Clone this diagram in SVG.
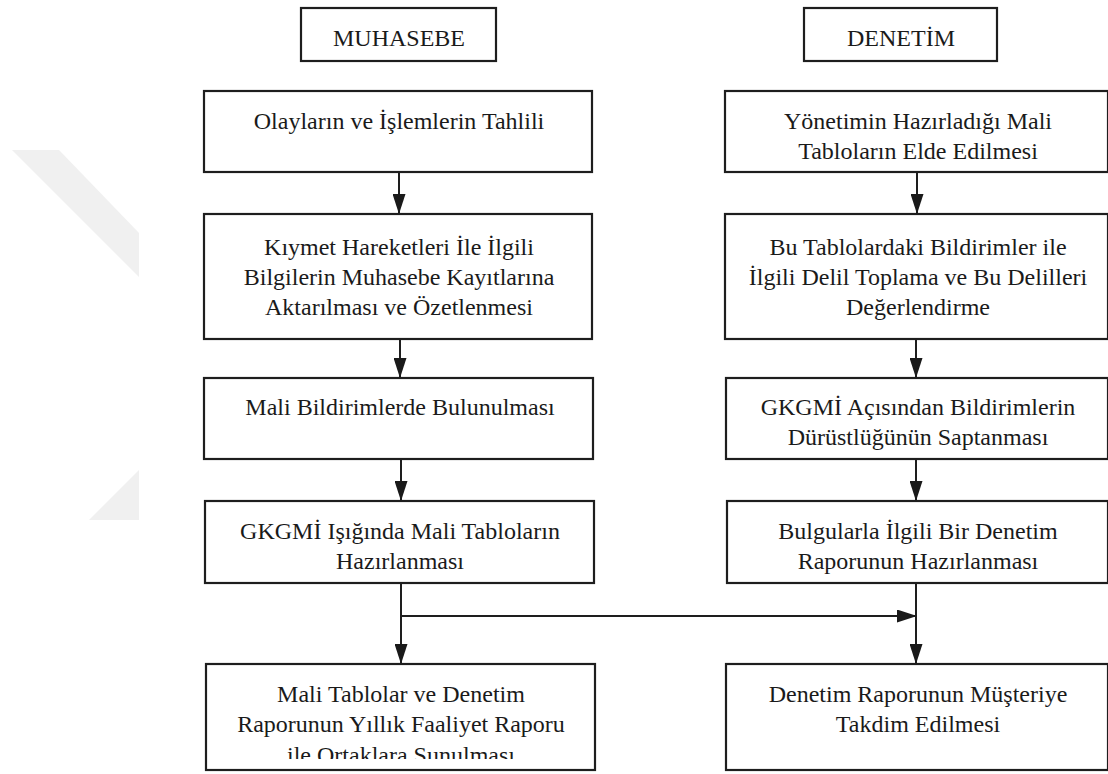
<svg xmlns="http://www.w3.org/2000/svg" width="1108" height="774" viewBox="0 0 1108 774">
  <style>
    .box { fill: #ffffff; stroke: #1e1e1e; stroke-width: 2.2; }
    .lbl { font-family: "Liberation Serif", "Times New Roman", serif; font-size: 24px; fill: #1a1a1a; text-anchor: middle; }
    .wire { fill: none; stroke: #1e1e1e; stroke-width: 2; }
    .mark { fill: #f0f0f0; }
  </style>
  <defs>
    <marker id="head" markerUnits="userSpaceOnUse" markerWidth="20" markerHeight="13" refX="20" refY="6.5" orient="auto">
      <path d="M0,0 L20,6.5 L0,13 Z" fill="#1a1a1a"/>
    </marker>
    <clipPath id="clip-m5">
      <rect x="204" y="664" width="390" height="95"/>
    </clipPath>
  </defs>

  <rect width="1108" height="774" fill="#ffffff"/>

  <!-- faint background emblem -->
  <g id="emblem">
    <polygon class="mark" points="12,150 59,150 139,233 139,277"/>
    <polygon class="mark" points="89,520 139,470 139,520"/>
  </g>

  <!-- column headers -->
  <g id="hdr-muhasebe">
    <rect class="box" x="301" y="8" width="195" height="53"/>
    <text class="lbl" x="399" y="46">MUHASEBE</text>
  </g>
  <g id="hdr-denetim">
    <rect class="box" x="804" y="8" width="193" height="53"/>
    <text class="lbl" x="901" y="46">DENETİM</text>
  </g>

  <!-- accounting column -->
  <g id="m1">
    <rect class="box" x="204" y="91" width="388" height="81"/>
    <text class="lbl" x="399" y="129">Olayların ve İşlemlerin Tahlili</text>
  </g>
  <g id="m2">
    <rect class="box" x="204" y="214" width="388" height="125"/>
    <text class="lbl" x="399" y="255">Kıymet Hareketleri İle İlgili</text>
    <text class="lbl" x="399" y="285">Bilgilerin Muhasebe Kayıtlarına</text>
    <text class="lbl" x="399" y="315">Aktarılması ve Özetlenmesi</text>
  </g>
  <g id="m3">
    <rect class="box" x="204" y="378" width="389" height="81"/>
    <text class="lbl" x="400" y="415">Mali Bildirimlerde Bulunulması</text>
  </g>
  <g id="m4">
    <rect class="box" x="205" y="501" width="389" height="82"/>
    <text class="lbl" x="400" y="539">GKGMİ Işığında Mali Tabloların</text>
    <text class="lbl" x="400" y="569">Hazırlanması</text>
  </g>
  <g id="m5">
    <rect class="box" x="206" y="664" width="389" height="106"/>
    <g clip-path="url(#clip-m5)">
      <text class="lbl" x="401" y="702">Mali Tablolar ve Denetim</text>
      <text class="lbl" x="401" y="732">Raporunun Yıllık Faaliyet Raporu</text>
      <text class="lbl" x="401" y="763">ile Ortaklara Sunulması</text>
    </g>
  </g>

  <!-- audit column -->
  <g id="d1">
    <rect class="box" x="725" y="91" width="383" height="81"/>
    <text class="lbl" x="918" y="129">Yönetimin Hazırladığı Mali</text>
    <text class="lbl" x="918" y="159">Tabloların Elde Edilmesi</text>
  </g>
  <g id="d2">
    <rect class="box" x="725" y="214" width="383" height="125"/>
    <text class="lbl" x="918" y="255">Bu Tablolardaki Bildirimler ile</text>
    <text class="lbl" x="918" y="285">İlgili Delil Toplama ve Bu Delilleri</text>
    <text class="lbl" x="918" y="315">Değerlendirme</text>
  </g>
  <g id="d3">
    <rect class="box" x="726" y="378" width="382" height="81"/>
    <text class="lbl" x="918" y="415">GKGMİ Açısından Bildirimlerin</text>
    <text class="lbl" x="918" y="445">Dürüstlüğünün Saptanması</text>
  </g>
  <g id="d4">
    <rect class="box" x="727" y="501" width="381" height="82"/>
    <text class="lbl" x="918" y="539">Bulgularla İlgili Bir Denetim</text>
    <text class="lbl" x="918" y="569">Raporunun Hazırlanması</text>
  </g>
  <g id="d5">
    <rect class="box" x="726" y="664" width="382" height="106"/>
    <text class="lbl" x="918" y="702">Denetim Raporunun Müşteriye</text>
    <text class="lbl" x="918" y="732">Takdim Edilmesi</text>
  </g>

  <!-- connectors -->
  <g id="connectors">
    <line class="wire" x1="399" y1="172" x2="399" y2="214" marker-end="url(#head)"/>
    <line class="wire" x1="400" y1="339" x2="400" y2="378" marker-end="url(#head)"/>
    <line class="wire" x1="401" y1="459" x2="401" y2="501" marker-end="url(#head)"/>
    <line class="wire" x1="401" y1="583" x2="401" y2="664" marker-end="url(#head)"/>
    <line class="wire" x1="401" y1="616" x2="917" y2="616" marker-end="url(#head)"/>

    <line class="wire" x1="917" y1="172" x2="917" y2="214" marker-end="url(#head)"/>
    <line class="wire" x1="916" y1="339" x2="916" y2="378" marker-end="url(#head)"/>
    <line class="wire" x1="916" y1="459" x2="916" y2="501" marker-end="url(#head)"/>
    <line class="wire" x1="916" y1="583" x2="916" y2="664" marker-end="url(#head)"/>
  </g>
</svg>
